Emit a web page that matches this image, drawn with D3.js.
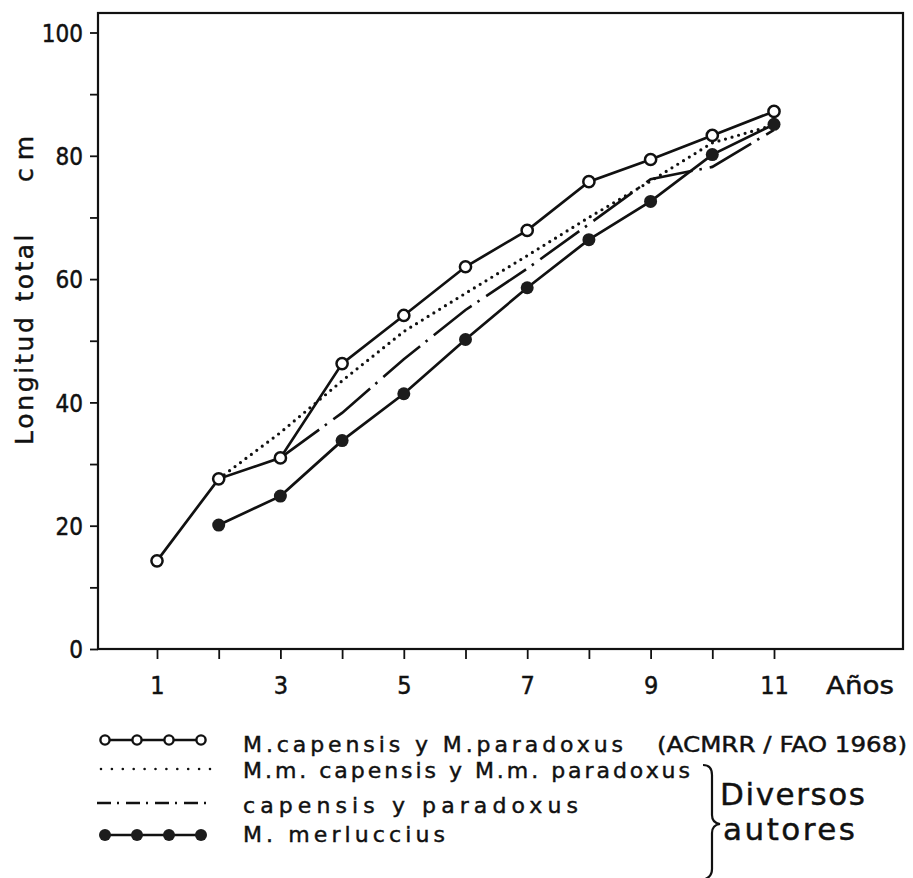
<!DOCTYPE html>
<html>
<head>
<meta charset="utf-8">
<script src="https://cdn.jsdelivr.net/npm/d3@7"></script>
<style>
  body { margin: 0; background: #fff; }
  svg text { font-family: "DejaVu Sans", sans-serif; fill: #111; stroke: #111; stroke-width: 0.45px; }
  svg .tick text { font-family: "DejaVu Sans Condensed", "DejaVu Sans", sans-serif; }
</style>
</head>
<body>
<div id="chart"></div>
<script>
// values (total length in cm by age in years)
const years = [1, 2, 3, 4, 5, 6, 7, 8, 9, 10, 11];
const faoYears = [1, 2, 3, 4, 5, 6, 7, 8, 9, 10, 11];
const faoValues = [14.3, 27.6, 31.0, 46.3, 54.1, 62.0, 67.9, 75.8, 79.4, 83.3, 87.2];
const mmYears = [2, 3, 4, 5, 6, 7, 8, 9, 10, 11];
const mmValues = [27.6, 35.1, 43.5, 51.5, 57.7, 63.8, 70.0, 75.9, 82.1, 85.0];
const capYears = [3, 4, 5, 6, 7, 8, 9, 10, 11];
const capValues = [31.0, 38.3, 47.0, 55.0, 61.7, 68.9, 76.2, 78.2, 84.2];
const merlYears = [2, 3, 4, 5, 6, 7, 8, 9, 10, 11];
const merlValues = [20.1, 24.8, 33.8, 41.4, 50.2, 58.6, 66.4, 72.6, 80.2, 85.1];
const yTicks = [0, 10, 20, 30, 40, 50, 60, 70, 80, 90, 100];
const xLabels = [1, 3, 5, 7, 9, 11];
const legendLabels = [
  "M.capensis y M.paradoxus",
  "M.m. capensis y M.m. paradoxus",
  "capensis y  paradoxus",
  "M.  merluccius"
];

const W = 913, H = 878;
const svg = d3.select("#chart").append("svg")
  .attr("width", W).attr("height", H);

const frame = { left: 98, right: 903, top: 13, bottom: 649 };

const x = d3.scaleLinear().domain([1, 11]).range([157, 774]);
const y = d3.scaleLinear().domain([0, 100]).range([649, 32.5]);

// frame
svg.append("rect")
  .attr("x", frame.left).attr("y", frame.top)
  .attr("width", frame.right - frame.left)
  .attr("height", frame.bottom - frame.top)
  .style("fill", "none").style("stroke", "#111").style("stroke-width", 2.2);

// y axis
const yAxis = svg.append("g")
  .attr("transform", `translate(${frame.left},0)`)
  .call(d3.axisLeft(y).tickValues(yTicks).tickSize(8).tickPadding(7)
    .tickFormat(d => d % 20 === 0 ? d : ""));
yAxis.select(".domain").remove();
yAxis.selectAll("line").style("stroke", "#111").style("stroke-width", 1.8);
yAxis.selectAll("text").style("font-size", "24px").attr("dy", "0.36em");

// x axis
const xAxis = svg.append("g")
  .attr("transform", `translate(0,${frame.bottom})`)
  .call(d3.axisBottom(x).tickValues(years).tickSize(10).tickPadding(17)
    .tickFormat(d => xLabels.includes(d) ? d : ""));
xAxis.select(".domain").remove();
xAxis.selectAll("line").style("stroke", "#111").style("stroke-width", 1.8);
xAxis.selectAll("text").style("font-size", "25px");

svg.append("text")
  .attr("x", 826).attr("y", 694)
  .attr("textLength", 68).attr("lengthAdjust", "spacingAndGlyphs")
  .style("font-size", "24px")
  .text("Años");

// y axis title, three words spaced as in the figure
const yTitle = [
  { word: "Longitud", c: 381, len: 128 },
  { word: "total", c: 268, len: 67 },
  { word: "cm", c: 159, len: 46 }
];
svg.selectAll(".ytitle")
  .data(yTitle)
  .enter().append("text")
  .attr("class", "ytitle")
  .attr("transform", d => `translate(33,${d.c}) rotate(-90)`)
  .attr("text-anchor", "middle")
  .attr("textLength", d => d.len).attr("lengthAdjust", "spacing")
  .style("font-size", "25px")
  .text(d => d.word);

// series
const toPts = (xs, vs) => xs.map((yr, i) => ({ year: yr, value: vs[i] }));
const fao = toPts(faoYears, faoValues);
const mm = toPts(mmYears, mmValues);
const cap = toPts(capYears, capValues);
const merl = toPts(merlYears, merlValues);

const line = d3.line().x(d => x(d.year)).y(d => y(d.value));

svg.append("path").datum(mm)
  .attr("d", line)
  .style("fill", "none").style("stroke", "#111")
  .style("stroke-width", 3.2).style("stroke-linecap", "round")
  .style("stroke-dasharray", "0,6.8");

svg.append("path").datum(cap)
  .attr("d", line)
  .style("fill", "none").style("stroke", "#111")
  .style("stroke-width", 2.6)
  .style("stroke-dasharray", "48,7,2.5,8");

svg.append("path").datum(merl)
  .attr("d", line)
  .style("fill", "none").style("stroke", "#111").style("stroke-width", 2.7);

svg.append("path").datum(fao)
  .attr("d", line)
  .style("fill", "none").style("stroke", "#111").style("stroke-width", 2.7);

svg.selectAll(".dot-merl")
  .data(merl)
  .enter().append("circle")
  .attr("class", "dot-merl")
  .attr("cx", d => x(d.year)).attr("cy", d => y(d.value))
  .attr("r", 6.5)
  .style("fill", "#1c1c1c");

svg.selectAll(".dot-fao")
  .data(fao)
  .enter().append("circle")
  .attr("class", "dot-fao")
  .attr("cx", d => x(d.year)).attr("cy", d => y(d.value))
  .attr("r", 5.6)
  .style("fill", "#fff").style("stroke", "#111").style("stroke-width", 2.5);

// legend
const legendRows = [
  { label: legendLabels[0], cy: 740, base: 752, len: 380, kind: "open" },
  { label: legendLabels[1], cy: 769, base: 778, len: 447, kind: "dotted" },
  { label: legendLabels[2], cy: 803, base: 813, len: 335, kind: "dashdot" },
  { label: legendLabels[3], cy: 835, base: 842, len: 202, kind: "filled" }
];
const markX = [105, 137, 169, 201];

const legend = svg.selectAll(".legend")
  .data(legendRows)
  .enter().append("g")
  .attr("class", "legend");

legend.each(function(d) {
  const g = d3.select(this);
  if (d.kind === "open" || d.kind === "filled") {
    g.append("line")
      .attr("x1", markX[0]).attr("x2", markX[3])
      .attr("y1", d.cy).attr("y2", d.cy)
      .style("stroke", "#111").style("stroke-width", 2.4);
    g.selectAll("circle").data(markX).enter().append("circle")
      .attr("cx", v => v).attr("cy", d.cy)
      .attr("r", d.kind === "open" ? 4.6 : 6)
      .style("fill", d.kind === "open" ? "#fff" : "#1c1c1c")
      .style("stroke", "#111").style("stroke-width", d.kind === "open" ? 2.4 : 0);
  } else if (d.kind === "dotted") {
    g.append("line")
      .attr("x1", 101).attr("x2", 211)
      .attr("y1", d.cy).attr("y2", d.cy)
      .style("stroke", "#111").style("stroke-width", 2.6)
      .style("stroke-linecap", "round").style("stroke-dasharray", "0,10.9");
  } else {
    g.append("line")
      .attr("x1", 97).attr("x2", 209)
      .attr("y1", d.cy).attr("y2", d.cy)
      .style("stroke", "#111").style("stroke-width", 2.6)
      .style("stroke-dasharray", "14,6,2,7");
  }
  g.append("text")
    .attr("x", 243).attr("y", d.base)
    .attr("textLength", d.len).attr("lengthAdjust", "spacing")
    .style("font-size", "22px")
    .text(d.label);
});

svg.append("text")
  .attr("x", 657).attr("y", 752)
  .attr("textLength", 250).attr("lengthAdjust", "spacingAndGlyphs")
  .style("font-size", "22px")
  .text("(ACMRR / FAO 1968)");

// brace grouping the last three rows
svg.append("path")
  .attr("d", "M703,765 Q712,765 712,775 L712,815 Q712,823 720,824 Q712,825 712,833 L712,869 Q712,878 702,880")
  .style("fill", "none").style("stroke", "#111").style("stroke-width", 2.2);

svg.append("text")
  .attr("x", 720).attr("y", 805)
  .attr("textLength", 145).attr("lengthAdjust", "spacing")
  .style("font-size", "31px")
  .text("Diversos");

svg.append("text")
  .attr("x", 723).attr("y", 840)
  .attr("textLength", 132).attr("lengthAdjust", "spacing")
  .style("font-size", "31px")
  .text("autores");
</script>
</body>
</html>
